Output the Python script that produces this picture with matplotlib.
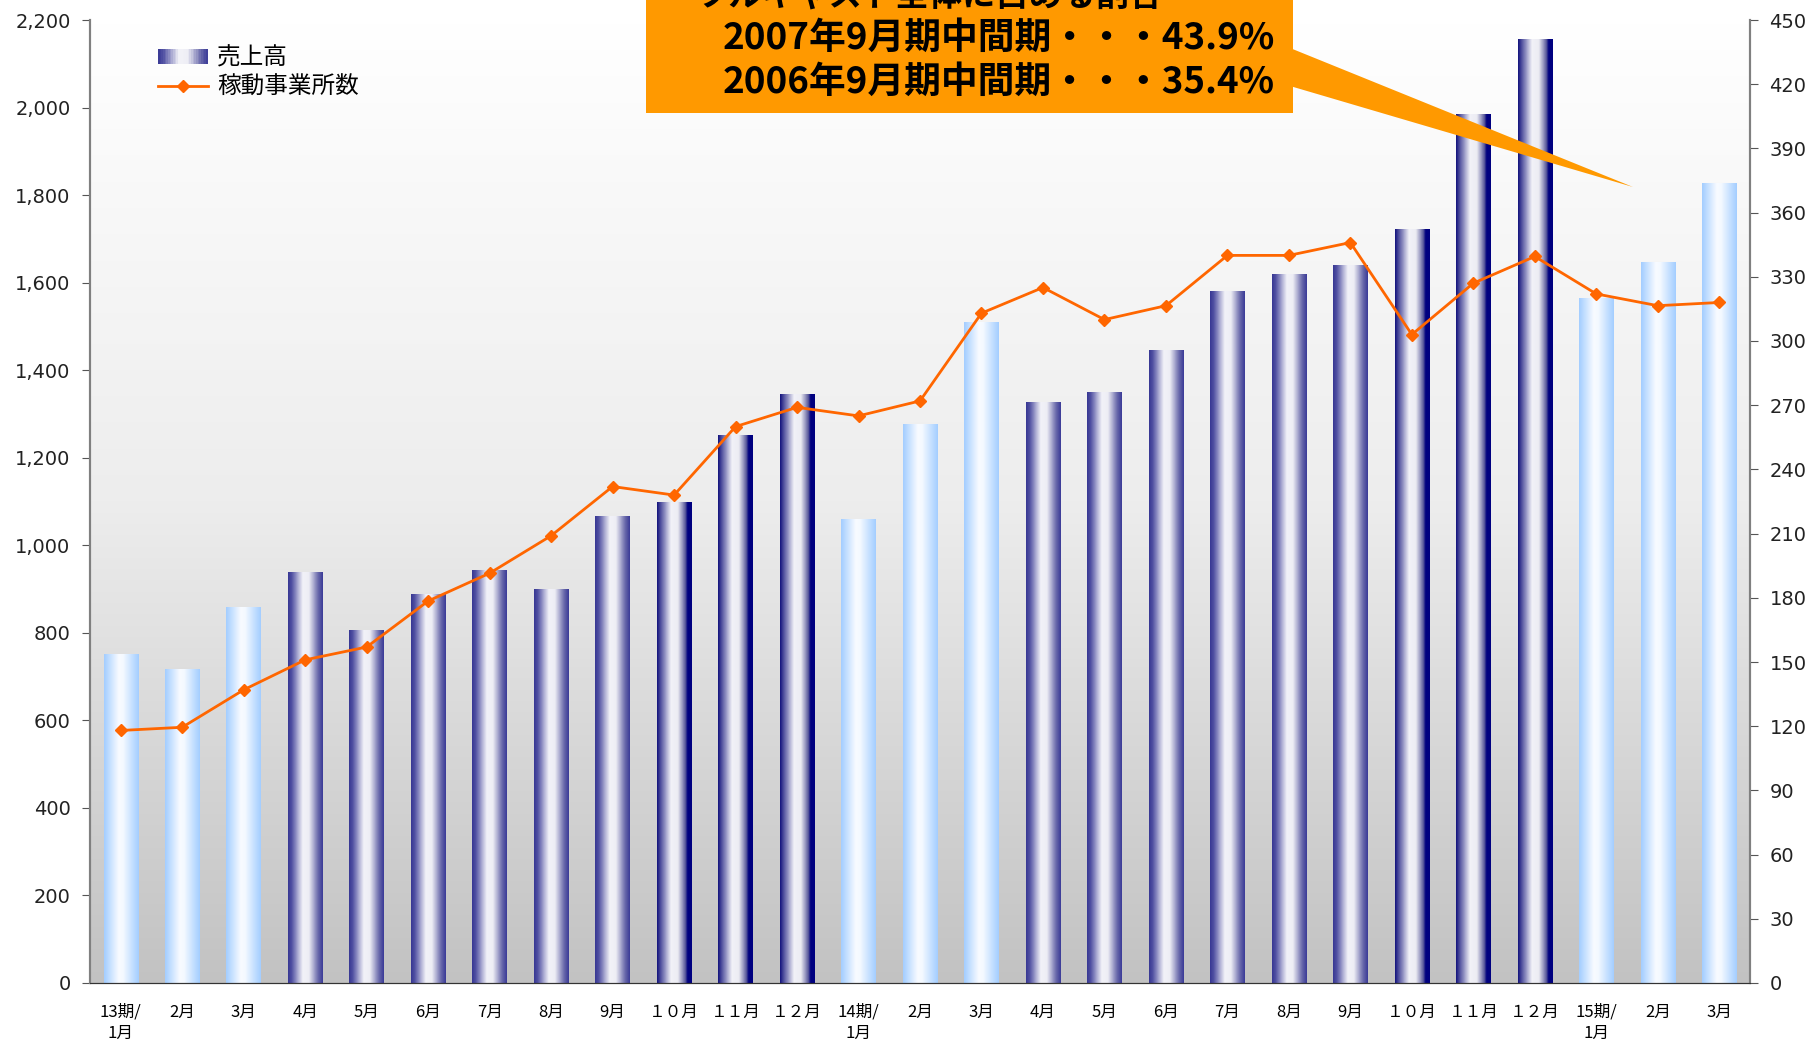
import numpy as np
import matplotlib
matplotlib.use("Agg")
import matplotlib.pyplot as plt
from matplotlib.colors import LinearSegmentedColormap
from matplotlib.patches import Rectangle, Polygon
from matplotlib.lines import Line2D
from matplotlib.legend_handler import HandlerBase

plt.rcParams['font.family'] = ['Noto Sans CJK JP', 'DejaVu Sans']

# データ
months = ["13期/\n1月", "2月", "3月", "4月", "5月", "6月", "7月", "8月", "9月", "１０月", "１１月", "１２月",
          "14期/\n1月", "2月", "3月", "4月", "5月", "6月", "7月", "8月", "9月", "１０月", "１１月", "１２月",
          "15期/\n1月", "2月", "3月"]
sales = [750, 716, 858, 937, 805, 887, 942, 900, 1066, 1097, 1250, 1345,
         1058, 1276, 1510, 1326, 1350, 1445, 1579, 1618, 1639, 1721, 1984, 2155,
         1563, 1645, 1826]
offices = [118, 119.5, 137, 151, 157, 178.5, 191.5, 209, 232, 228, 260, 269,
           265, 272, 313, 325, 310, 316.5, 340, 340, 346, 303, 327, 339.5,
           322, 316.5, 318]
# 棒の種類 (0: 水色, 1: 紺, 2: 濃い紺)
bar_kind = [0, 0, 0, 1, 1, 1, 1, 1, 1, 2, 2, 2,
            0, 0, 0, 1, 1, 1, 1, 1, 1, 2, 2, 2,
            0, 0, 0]

callout_title = "ツルキャスト全体に占める割合"
callout_lines = ["2007年9月期中間期・・・43.9%", "2006年9月期中間期・・・35.4%"]

# グラデーション
cmaps = [
    LinearSegmentedColormap.from_list("light", [(0, "#A4CEFF"), (0.42, "#F8FBFF"), (0.55, "#F4F9FF"), (1, "#A4CEFF")]),
    LinearSegmentedColormap.from_list("navy", [(0, "#383894"), (0.1, "#5050A2"), (0.42, "#F2F2F8"),
                                               (0.6, "#EEEEF5"), (0.88, "#6464A8"), (1, "#3C3C98")]),
    LinearSegmentedColormap.from_list("dark", [(0, "#14147E"), (0.1, "#50509E"), (0.4, "#F2F2F8"),
                                               (0.6, "#ECECF3"), (0.82, "#5A5A9C"), (0.88, "#000080"), (1, "#000080")]),
]
grad = np.linspace(0, 1, 64).reshape(1, -1)

fig = plt.figure(figsize=(18.07, 10.41), dpi=100)
W, H = 1807, 1041
ax = fig.add_axes([90 / W, 1 - 983 / H, 1660 / W, 963 / H])
ax2 = ax.twinx()

# 背景
bg = LinearSegmentedColormap.from_list("bg", ["#FFFFFF", "#EDEDED", "#C2C2C2"])
ax.imshow(np.linspace(0, 1, 256).reshape(-1, 1), cmap=bg, extent=(0, 1, 0, 1),
          transform=ax.transAxes, aspect='auto', zorder=0)

x = np.arange(len(months))
w = 0.56
for xi, v, k in zip(x, sales, bar_kind):
    ax.imshow(grad, cmap=cmaps[k], extent=(xi - w / 2, xi + w / 2, 0, v),
              aspect='auto', zorder=2, interpolation='bilinear')

ax2.plot(x, offices, color="#FF6600", lw=2, marker='D', ms=6.5, zorder=5)

ax.set_xlim(-0.5, len(months) - 0.5)
ax.set_ylim(0, 2200)
ax2.set_ylim(0, 450)
ax.set_yticks(np.arange(0, 2201, 200))
ax.set_yticklabels([f"{v:,}" for v in range(0, 2201, 200)], family='DejaVu Sans', fontsize=14, color="#222222")
ax2.set_yticks(np.arange(0, 451, 30))
ax2.set_yticklabels([str(v) for v in range(0, 451, 30)], family='DejaVu Sans', fontsize=14, color="#222222")
ax.set_xticks(x)
ax.set_xticklabels(months, fontsize=12, linespacing=1.3)
ax.tick_params(axis='x', length=0, pad=15)
ax.tick_params(axis='y', length=6, color="#555555", pad=8)
ax2.tick_params(axis='y', length=6, color="#555555", pad=8)
for a in (ax, ax2):
    a.spines['top'].set_visible(False)
    a.spines['left'].set_color("#808080")
    a.spines['right'].set_color("#808080")
    a.spines['bottom'].set_color("#333333")
    a.spines['left'].set_linewidth(1.5)
    a.spines['right'].set_linewidth(1.5)


# 凡例
class GradHandler(HandlerBase):
    def create_artists(self, legend, orig_handle, xdescent, ydescent, width, height, fontsize, trans):
        n = 30
        out = []
        for i in range(n):
            c = cmaps[1]((i + 0.5) / n)
            out.append(Rectangle((-xdescent + i * width / n, -ydescent), width / n + 0.05, height,
                                 facecolor=c, edgecolor='none', transform=trans))
        return out


bar_handle = Rectangle((0, 0), 1, 1)
line_handle = Line2D([], [], color="#FF6600", lw=2, marker='D', ms=6.5)
ax2.legend([bar_handle, line_handle], ["売上高", "稼動事業所数"],
           handler_map={Rectangle: GradHandler()},
           loc='upper left', bbox_to_anchor=((158 - 90) / 1660, 0.972),
           frameon=False, fontsize=17, borderpad=0, borderaxespad=0,
           handlelength=2.1, handleheight=0.55, handletextpad=0.4, labelspacing=0.25)

# 吹き出し
fig.add_artist(Rectangle((646 / W, 1 - 113 / H), (1293 - 646) / W, 113 / H + 0.01,
                         transform=fig.transFigure, facecolor="#FF9900", edgecolor='none', zorder=10))
fig.add_artist(Polygon([(1290 / W, 1 - 48 / H), (1290 / W, 1 - 86 / H), (1633 / W, 1 - 187 / H)],
                       transform=fig.transFigure, facecolor="#FF9900", edgecolor='none', zorder=10))
fig.text(929 / W, 1 + 3 / H, callout_title, ha='center', va='center', fontsize=24,
         fontweight='bold', color='black', zorder=11)
fig.text(1275 / W, 1 - 38 / H, callout_lines[0], ha='right', va='center', fontsize=26.5,
         fontweight='bold', color='black', zorder=11)
fig.text(1275 / W, 1 - 82 / H, callout_lines[1], ha='right', va='center', fontsize=26.5,
         fontweight='bold', color='black', zorder=11)

fig.savefig("out.png", dpi=100)
